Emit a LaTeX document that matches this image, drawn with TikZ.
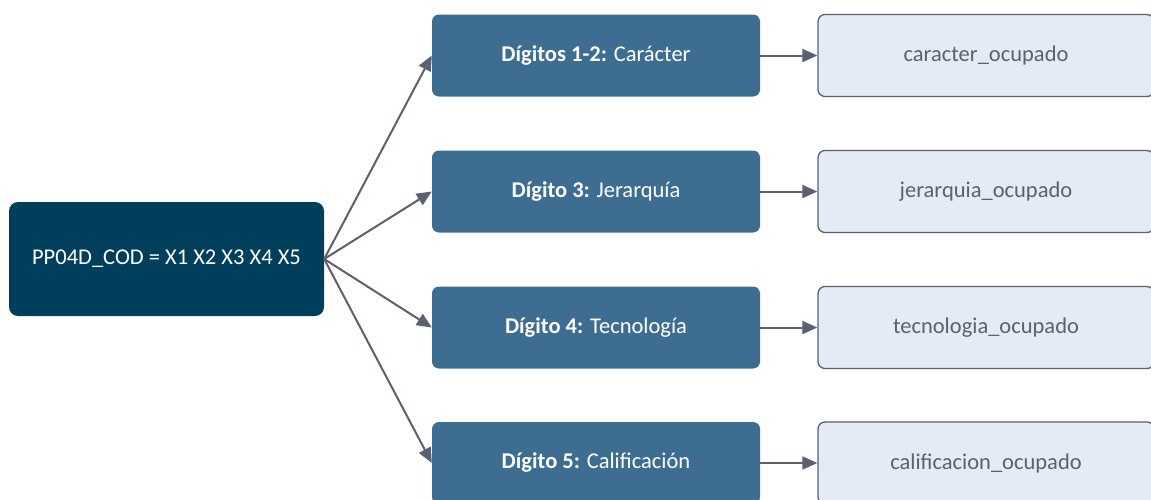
\documentclass[tikz,border=0pt]{standalone}
\usepackage{fontspec}
\setmainfont{Carlito}
\usetikzlibrary{arrows.meta}
\definecolor{navy}{HTML}{003F5C}
\definecolor{midblue}{HTML}{3D6E91}
\definecolor{lightfill}{HTML}{E4EBF4}
\definecolor{edgegray}{HTML}{5C6070}
\begin{document}
\begin{tikzpicture}[x=1pt,y=-1pt,
  every node/.style={font=\fontsize{22.5}{26}\selectfont},
  srcbox/.style={draw=none,fill=navy,rounded corners=9pt,minimum width=315pt,minimum height=114pt,text=white,inner sep=0pt},
  midbox/.style={draw=none,fill=midblue,rounded corners=7pt,minimum width=328pt,minimum height=82pt,text=white,inner sep=0pt},
  varbox/.style={draw=edgegray,line width=1.3pt,fill=lightfill,rounded corners=7pt,minimum width=336pt,minimum height=82pt,text=edgegray,inner sep=0pt},
  conn/.style={draw=edgegray,line width=2pt,-{Triangle[length=15pt,width=13pt]}}
]
\useasboundingbox (0,0) rectangle (1151,499);
\fill[white] (0,0) rectangle (1151,499);
\node[srcbox] (src) at (166.5,259) {PP04D\_COD = X1 X2 X3 X4 X5};
\node[midbox] (m1) at (596,55.5) {\textbf{Dígitos 1-2:} Carácter};
\node[midbox] (m2) at (596,191.5) {\textbf{Dígito 3:} Jerarquía};
\node[midbox] (m3) at (596,327.5) {\textbf{Dígito 4:} Tecnología};
\node[midbox] (m4) at (596,463) {\textbf{Dígito 5:} Calificación};
\node[varbox] (v1) at (986,55.5) {caracter\_ocupado};
\node[varbox] (v2) at (986,191.5) {jerarquia\_ocupado};
\node[varbox] (v3) at (986,327.5) {tecnologia\_ocupado};
\node[varbox] (v4) at (986,463) {calificacion\_ocupado};
\foreach \i in {1,2,3,4}{
  \draw[conn] (src.east) -- (m\i.west);
  \draw[conn] (m\i.east) -- (v\i.west);
}
\end{tikzpicture}
\end{document}
